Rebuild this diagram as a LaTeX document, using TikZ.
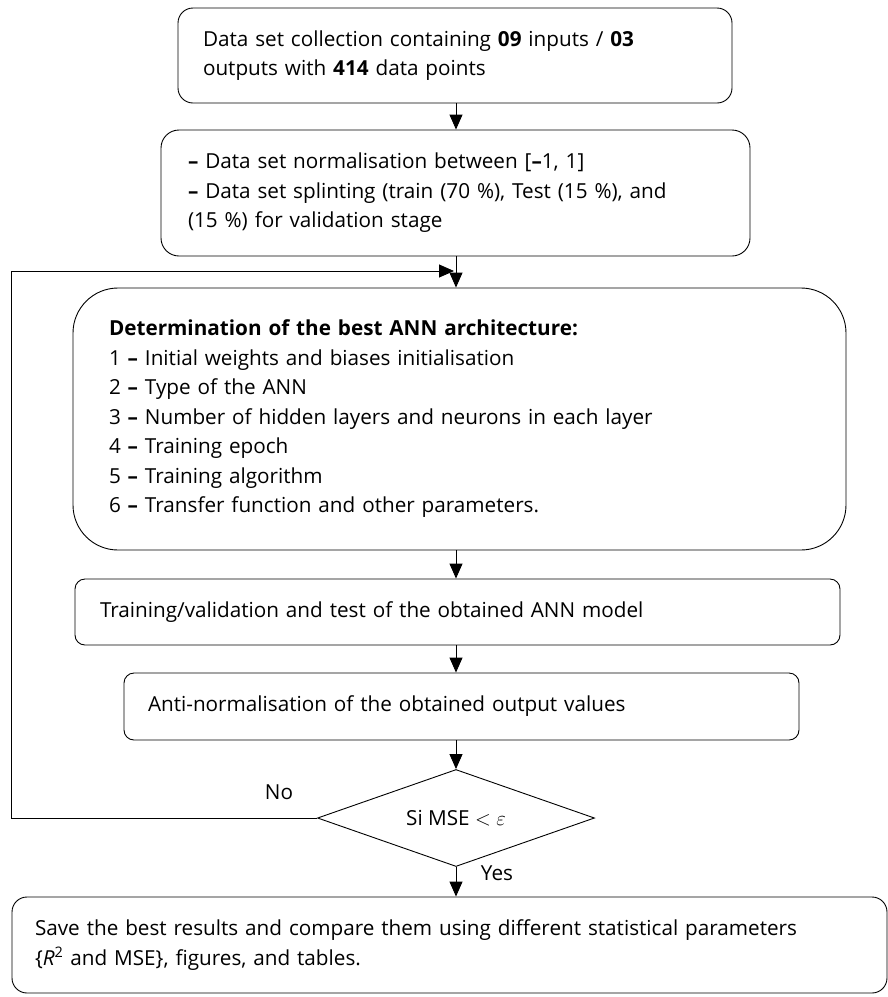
\documentclass[tikz,border=0pt]{standalone}
\usepackage{fontspec}
\setmainfont{Open Sans}
\usetikzlibrary{arrows.meta,shapes.geometric}
\begin{document}
\begin{tikzpicture}[x=1pt,y=-1pt,
  every node/.style={font=\fontsize{20.7}{29.5}\selectfont},
  box/.style={draw, line width=0.9pt, align=left, anchor=center, inner ysep=0pt},
  arr/.style={draw, line width=0.9pt, -{Triangle[length=15pt,width=13pt]}},
  lbl/.style={inner sep=0pt}]
\useasboundingbox (0,0) rectangle (888,997);
\coordinate (ax) at (456,0);
\node[box, rounded corners=15pt, minimum width=554pt, minimum height=95pt, text width=504pt, inner xsep=25pt] (b1) at (455,55.5)
  {Data set collection containing \textbf{09} inputs / \textbf{03}\\outputs with \textbf{414} data points};
\node[box, rounded corners=18pt, minimum width=589pt, minimum height=126pt, text width=535pt, inner xsep=27pt] (b2) at (455.5,193)
  {\textbf{–} Data set normalisation between [\textbf{–}1, 1]\\\textbf{–} Data set splinting (train (70 \%), Test (15 \%), and\\(15 \%) for validation stage};
\node[box, rounded corners=45pt, minimum width=773pt, minimum height=262pt, text width=701pt, inner xsep=36pt] (b3) at (459.5,419)
  {\textbf{Determination of the best ANN architecture:}\\
   1 \textbf{–} Initial weights and biases initialisation\\
   2 \textbf{–} Type of the ANN\\
   3 \textbf{–} Number of hidden layers and neurons in each layer\\
   4 \textbf{–} Training epoch\\
   5 \textbf{–} Training algorithm\\
   6 \textbf{–} Transfer function and other parameters.};
\node[box, rounded corners=10pt, minimum width=765pt, minimum height=66pt, text width=715pt, inner xsep=25pt] (b4) at (457.5,612)
  {Training/validation and test of the obtained ANN model};
\node[box, rounded corners=10pt, minimum width=675pt, minimum height=67pt, text width=627pt, inner xsep=24pt] (b5) at (461.5,706.5)
  {Anti-normalisation of the obtained output values};
\node[draw, line width=0.9pt, diamond, aspect=2.856, minimum width=277pt, minimum height=97pt, inner sep=0pt] (dia) at (456,818)
  {Si MSE $<$\ $\varepsilon$};
\node[box, rounded corners=15pt, minimum width=875pt, minimum height=96pt, text width=829pt, inner xsep=23pt] (b6) at (449.5,945)
  {Save the best results and compare them using different statistical parameters\\\{\textit{R}\textsuperscript{2} and MSE\}, figures, and tables.};
\node[lbl] (no) at (279,792) {No};
\node[lbl] (yes) at (497,873) {Yes};
\coordinate (fbL) at (11,818);
\coordinate (fbT) at (454,271);
\draw[arr] (b1.south -| ax) -- (b2.north -| ax);
\draw[arr] (b2.south -| ax) -- (b3.north -| ax);
\draw[arr] (b3.south -| ax) -- (b4.north -| ax);
\draw[arr] (b4.south -| ax) -- (b5.north -| ax);
\draw[arr] (b5.south -| ax) -- (dia.north);
\draw[arr] (dia.south) -- (b6.north -| ax);
\draw[arr] (dia.west) -- (fbL) |- (fbT);
\end{tikzpicture}
\end{document}
